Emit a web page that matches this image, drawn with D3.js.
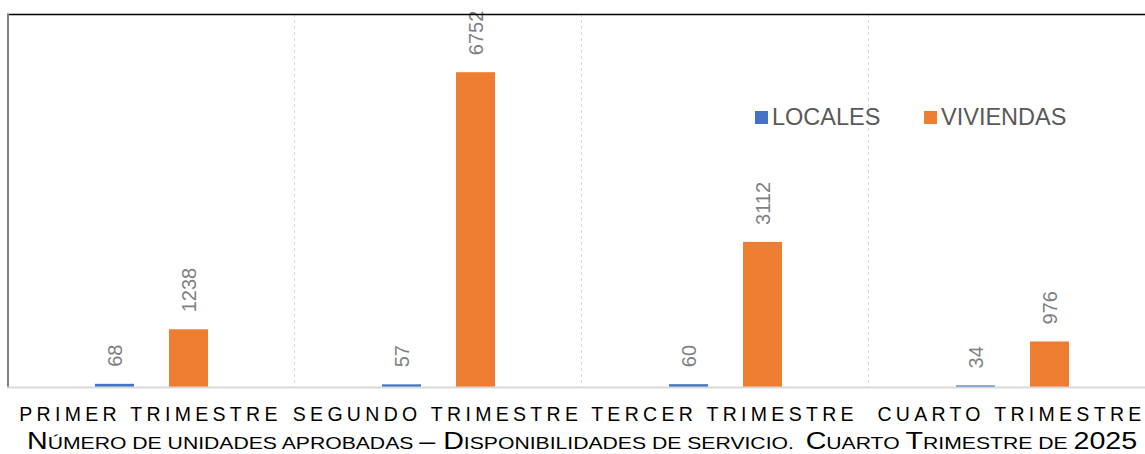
<!DOCTYPE html>
<html>
<head>
<meta charset="utf-8">
<script src="https://cdn.jsdelivr.net/npm/d3@7"></script>
<style>
  body { margin: 0; background: #fff; }
  svg { display: block; font-family: "Liberation Sans", Arial, sans-serif; }
</style>
</head>
<body>
<div class="chart"></div>
<script>
// data
var categories = ["PRIMER TRIMESTRE", "SEGUNDO TRIMESTRE", "TERCER TRIMESTRE", "CUARTO TRIMESTRE"];
var series = ["LOCALES", "VIVIENDAS"];
var locales = [68, 57, 60, 34];
var viviendas = [1238, 6752, 3112, 976];
var colors = ["#4472C4", "#ED7D31"];
var titleParts = [["N", "ÚMERO DE UNIDADES APROBADAS "], ["– D", "ISPONIBILIDADES DE SERVICIO.  "], ["C", "UARTO "], ["T", "RIMESTRE DE "], ["2025", ""]];

var svgWidth = 1145;
var svgHeight = 454;
var margin = { top: 14, left: 7, bottom: 67 };
var plotBottom = svgHeight - margin.bottom; // 387

var svg = d3.select(".chart")
  .append("svg")
  .attr("width", svgWidth)
  .attr("height", svgHeight);

// scales
var x0 = d3.scaleBand()
  .domain(categories)
  .range([margin.left, margin.left + 4 * 287]);
var x1 = d3.scaleBand()
  .domain(series)
  .range([88, 201])
  .paddingInner(35 / 74);
var y = d3.scaleLinear()
  .domain([0, 8000])
  .range([plotBottom, margin.top]);

// gridlines between categories
svg.append("g")
  .selectAll("line")
  .data(categories.slice(1))
  .enter().append("line")
  .attr("x1", function(d) { return Math.round(x0(d)) + 0.5; })
  .attr("x2", function(d) { return Math.round(x0(d)) + 0.5; })
  .attr("y1", margin.top)
  .attr("y2", plotBottom)
  .attr("stroke", "#d9d9d9")
  .attr("stroke-dasharray", "3,3");

// bars
var rows = categories.map(function(c, i) {
  return { cat: c, vals: [locales[i], viviendas[i]] };
});
var groups = svg.append("g")
  .selectAll("g")
  .data(rows)
  .enter().append("g")
  .attr("transform", function(d) { return "translate(" + x0(d.cat) + ",0)"; });

groups.selectAll("rect")
  .data(function(d) { return d.vals.map(function(v, j) { return { s: series[j], v: v, c: colors[j] }; }); })
  .enter().append("rect")
  .attr("x", function(d) { return x1(d.s); })
  .attr("width", x1.bandwidth())
  .attr("y", function(d) { return y(d.v); })
  .attr("height", function(d) { return plotBottom - y(d.v); })
  .attr("fill", function(d) { return d.c; });

// value labels
groups.selectAll("text")
  .data(function(d) { return d.vals.map(function(v, j) { return { s: series[j], v: v }; }); })
  .enter().append("text")
  .attr("transform", function(d) {
    return "translate(" + (x1(d.s) + x1.bandwidth() / 2) + "," + (y(d.v) - 17) + ") rotate(-90)";
  })
  .attr("dominant-baseline", "central")
  .attr("font-size", "20px")
  .attr("fill", "#7f7f7f")
  .text(function(d) { return d.v; });

// frame: top black, left gray, bottom axis
svg.append("line")
  .attr("x1", margin.left).attr("x2", svgWidth)
  .attr("y1", margin.top + 0.5).attr("y2", margin.top + 0.5)
  .attr("stroke", "#000").attr("stroke-width", 1.5);
svg.append("line")
  .attr("x1", margin.left + 1).attr("x2", margin.left + 1)
  .attr("y1", margin.top).attr("y2", plotBottom + 1)
  .attr("stroke", "#808080").attr("stroke-width", 2);
svg.append("line")
  .attr("x1", margin.left).attr("x2", svgWidth)
  .attr("y1", plotBottom + 0.5).attr("y2", plotBottom + 0.5)
  .attr("stroke", "#d9d9d9").attr("stroke-width", 2);

// category labels
svg.append("g")
  .selectAll("text")
  .data(categories)
  .enter().append("text")
  .attr("x", function(d) { return x0(d) + x0.bandwidth() / 2; })
  .attr("y", 421)
  .attr("text-anchor", "middle")
  .attr("font-size", "19.5px")
  .attr("letter-spacing", "4.3px")
  .attr("fill", "#000")
  .text(function(d) { return d; });

// legend
var legend = svg.append("g");
var legendX = [755, 924];
series.forEach(function(s, i) {
  legend.append("rect")
    .attr("x", legendX[i]).attr("y", 111)
    .attr("width", 13).attr("height", 13)
    .attr("fill", colors[i]);
  legend.append("text")
    .attr("x", legendX[i] + 17).attr("y", 125)
    .attr("font-size", "23.5px")
    .attr("fill", "#595959")
    .text(s);
});

// title in small caps, stretched to the reference width
var title = svg.append("text")
  .attr("fill", "#000")
  .style("white-space", "pre");
titleParts.forEach(function(p) {
  title.append("tspan").attr("font-size", "23px").text(p[0]);
  if (p[1]) title.append("tspan").attr("font-size", "17px").text(p[1]);
});
var tw = title.node().getComputedTextLength();
title.attr("transform", "translate(27,449) scale(" + (1111 / tw) + ",1)");
</script>
</body>
</html>
